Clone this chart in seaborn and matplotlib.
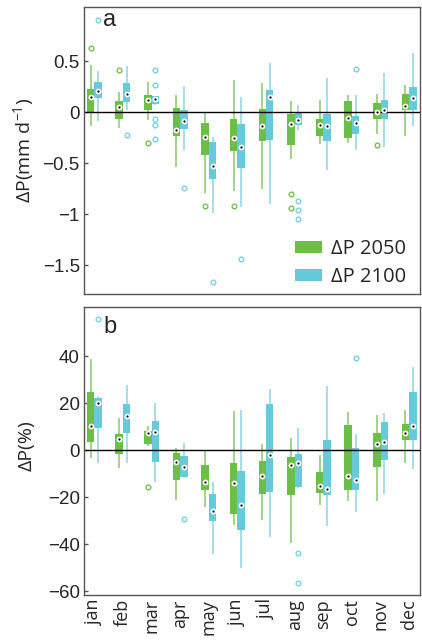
import numpy as np
import pandas as pd
import matplotlib
matplotlib.use("Agg")
import matplotlib.pyplot as plt
from matplotlib.patches import Patch
import seaborn as sns

# ---------------- data ----------------
months = ['jan', 'feb', 'mar', 'apr', 'may', 'jun', 'jul', 'aug', 'sep', 'oct', 'nov', 'dec']
series = ['ΔP 2050', 'ΔP 2100']

# panel a : mm/d  (whisker low, q1, median, q3, whisker high)
a50_lo = [-0.14, -0.15, -0.08, -0.54, -0.79, -0.77, -0.755, -0.46, -0.31, -0.30, -0.21, -0.23]
a50_q1 = [0.00, -0.07, 0.02, -0.23, -0.415, -0.38, -0.28, -0.32, -0.23, -0.25, -0.07, 0.02]
a50_md = [0.15, 0.05, 0.12, -0.17, -0.245, -0.255, -0.14, -0.12, -0.13, -0.06, 0.00, 0.06]
a50_q3 = [0.23, 0.105, 0.165, 0.04, -0.11, -0.07, 0.035, -0.02, -0.07, 0.11, 0.09, 0.18]
a50_hi = [0.46, 0.20, 0.30, 0.17, 0.00, 0.32, 0.29, 0.11, 0.12, 0.17, 0.18, 0.27]

a00_lo = [-0.085, 0.026, 0.07, -0.366, -0.99, -0.93, -0.90, -0.17, -0.57, -0.366, -0.34, -0.14]
a00_q1 = [0.14, 0.10, 0.085, -0.167, -0.657, -0.542, -0.275, -0.13, -0.278, -0.216, -0.066, 0.017]
a00_md = [0.206, 0.176, 0.134, -0.085, -0.526, -0.34, 0.147, -0.072, -0.134, -0.108, 0.023, 0.14]
a00_q3 = [0.30, 0.29, 0.154, 0.017, -0.288, -0.111, 0.222, 0.003, -0.02, -0.033, 0.118, 0.245]
a00_hi = [0.40, 0.45, 0.16, 0.255, -0.238, 0.144, 0.48, 0.075, 0.333, 0.167, 0.38, 0.58]

a_out_month = ['jan', 'feb', 'mar', 'may', 'jun', 'aug', 'aug', 'nov',
               'jan', 'feb', 'mar', 'mar', 'mar', 'mar', 'mar', 'apr', 'may', 'jun',
               'aug', 'aug', 'aug', 'oct']
a_out_series = ['ΔP 2050'] * 8 + ['ΔP 2100'] * 14
a_out_value = [0.63, 0.415, -0.30, -0.92, -0.92, -0.80, -0.94, -0.32,
               0.90, -0.22, 0.41, 0.27, -0.07, -0.127, -0.26, -0.74, -1.66, -1.44,
               -0.87, -0.96, -1.05, 0.425]

# panel b : %
b50_lo = [-3.3, -7.6, 1.7, -21.2, -24.3, -31.8, -29.6, -39.6, -23.2, -21.5, -21.7, -5.6]
b50_q1 = [3.4, -1.7, 2.7, -12.9, -16.9, -27.2, -18.5, -19.2, -18.2, -17.0, -7.3, 4.1]
b50_md = [10.3, 4.6, 7.2, -5.0, -13.7, -13.9, -11.2, -6.4, -15.2, -10.9, 2.4, 7.2]
b50_q3 = [24.7, 6.9, 8.2, -1.1, -6.2, -5.7, -4.7, -3.1, -9.4, 10.6, 7.2, 10.9]
b50_hi = [38.6, 13.6, 10.3, 0.7, 0.0, 16.7, 2.7, 5.2, -2.0, 16.2, 14.9, 17.0]

b00_lo = [-5.4, -5.4, -13.7, -11.7, -44.1, -50.1, -36.9, -16.0, -32.3, -26.2, -18.7, -7.9]
b00_q1 = [9.6, 7.2, -5.2, -11.4, -30.3, -34.0, -18.0, -15.9, -19.0, -17.0, -4.3, 4.4]
b00_md = [20.0, 14.3, 7.6, -7.2, -25.9, -23.2, -2.1, -5.3, -16.6, -12.7, 3.3, 10.2]
b00_q3 = [22.0, 19.7, 12.4, -2.4, -18.7, -8.9, 19.5, -1.6, 4.4, 0.7, 11.9, 24.6]
b00_hi = [22.9, 27.9, 20.2, 2.9, -13.6, 17.2, 25.8, 9.2, 27.3, 6.7, 15.7, 35.5]

b_out_month = ['mar', 'jan', 'apr', 'aug', 'aug', 'oct']
b_out_series = ['ΔP 2050', 'ΔP 2100', 'ΔP 2100', 'ΔP 2100', 'ΔP 2100', 'ΔP 2100']
b_out_value = [-15.6, 55.8, -29.5, -43.9, -56.8, 39.3]

a_yticks = [-1.5, -1, -0.5, 0, 0.5]
a_yticklabels = ['−1.5', '−1', '−0.5', '0', '0.5']
b_yticks = [-60, -40, -20, 0, 20, 40]
b_yticklabels = ['−60', '−40', '−20', '0', '20', '40']

# ---------------- style ----------------
GREEN = '#6bbf46'
CYAN = '#66cadb'
GREEN_W = '#9bd17e'
CYAN_W = '#9fdbe7'
GREEN_O = '#74c052'
CYAN_O = '#7ccfe0'
OPEN = ['Open Sans', 'DejaVu Sans']

sns.set_style('white')
plt.rcParams['font.family'] = ['Liberation Sans', 'DejaVu Sans']
plt.rcParams['mathtext.fontset'] = 'custom'
plt.rcParams['mathtext.rm'] = 'Open Sans'
plt.rcParams['mathtext.it'] = 'Open Sans:italic'


def box_frame(stats50, stats00):
    rows = []
    for s, stats in zip(series, (stats50, stats00)):
        for i, m in enumerate(months):
            for arr in stats:
                rows.append((m, s, arr[i]))
    return pd.DataFrame(rows, columns=['month', 'series', 'value'])


def draw_panel(ax, stats50, stats00, out_m, out_s, out_v):
    df = box_frame(stats50, stats00)
    for s, col, wcol in [(series[0], GREEN, GREEN_W), (series[1], CYAN, CYAN_W)]:
        sub = df[df['series'] == s]
        sns.boxplot(data=sub, x='month', y='value', hue='series', order=months,
                    hue_order=series, palette={series[0]: col, series[1]: col},
                    width=0.52, gap=0, dodge=True, whis=np.inf, showcaps=False,
                    fliersize=0, saturation=1, linewidth=1.3, linecolor=wcol,
                    boxprops=dict(linewidth=0, edgecolor=col),
                    whiskerprops=dict(color=wcol, linewidth=1.3),
                    medianprops=dict(linewidth=0, alpha=0),
                    legend=False, ax=ax)
    ax.axhline(0, color='black', linewidth=1.0, zorder=2.5)

    med = pd.DataFrame({'month': months * 2,
                        'series': [series[0]] * 12 + [series[1]] * 12,
                        'value': list(stats50[2]) + list(stats00[2])})
    for c, ms in [('white', 4.2), ('black', 1.6)]:
        sns.pointplot(data=med, x='month', y='value', hue='series', order=months,
                      hue_order=series, palette=[c, c], dodge=0.26, errorbar=None,
                      linestyle='none', marker='o', markersize=ms, markeredgewidth=0,
                      legend=False, zorder=3, ax=ax)

    out = pd.DataFrame({'month': out_m, 'series': out_s, 'value': out_v})
    out['k'] = out.groupby(['month', 'series']).cumcount()
    for k, g in out.groupby('k'):
        sns.pointplot(data=g, x='month', y='value', hue='series', order=months,
                      hue_order=series, palette=[GREEN_O, CYAN_O], dodge=0.26,
                      errorbar=None, linestyle='none', marker='o', markersize=3.4,
                      markerfacecolor='none', markeredgewidth=1.0,
                      legend=False, zorder=3, ax=ax)

    ax.set_xlim(-0.36, 11.38)
    for sp in ax.spines.values():
        sp.set_color('#555555')
        sp.set_linewidth(1.0)
        sp.set_visible(True)
    ax.tick_params(axis='y', direction='in', length=3, width=1, color='#555555',
                   labelsize=13.5, pad=3, left=True)
    ax.tick_params(axis='x', length=0)
    ax.set_xlabel('')


fig = plt.figure(figsize=(4.22, 6.44), dpi=100)
axa = fig.add_axes([84 / 422, 1 - 294 / 644, 336 / 422, 287 / 644])
axb = fig.add_axes([84 / 422, 1 - 595 / 644, 336 / 422, 288 / 644])

draw_panel(axa, (a50_lo, a50_q1, a50_md, a50_q3, a50_hi),
           (a00_lo, a00_q1, a00_md, a00_q3, a00_hi),
           a_out_month, a_out_series, a_out_value)
draw_panel(axb, (b50_lo, b50_q1, b50_md, b50_q3, b50_hi),
           (b00_lo, b00_q1, b00_md, b00_q3, b00_hi),
           b_out_month, b_out_series, b_out_value)

axa.set_ylim(-1.78, 1.03)
axa.set_yticks(a_yticks)
axa.set_yticklabels(a_yticklabels)
axa.set_xticklabels([])
axa.set_ylabel('ΔP(mm d$^{-1}$)', fontsize=14, family=OPEN)
axa.yaxis.set_label_coords(-0.143, 0.5)

axb.set_ylim(-61.7, 60.9)
axb.set_yticks(b_yticks)
axb.set_yticklabels(b_yticklabels)
axb.set_xticks(range(len(months)))
axb.set_xticklabels(months, rotation=90, fontsize=13, family=OPEN)
axb.tick_params(axis='x', pad=3)
axb.set_ylabel('ΔP(%)', fontsize=14, family=OPEN)
axb.yaxis.set_label_coords(-0.143, 0.52)

axa.text(0.058, 0.955, 'a', transform=axa.transAxes, fontsize=17, va='center', ha='left')
axb.text(0.058, 0.93, 'b', transform=axb.transAxes, fontsize=17, va='center', ha='left')

handles = [Patch(facecolor=GREEN, edgecolor='none'), Patch(facecolor=CYAN, edgecolor='none')]
axa.legend(handles, series, loc='lower right', bbox_to_anchor=(1.0, -0.025), frameon=False,
           prop={'family': OPEN, 'size': 14.5},
           handlelength=1.35, handleheight=0.5, handletextpad=0.45, labelspacing=0.4,
           borderaxespad=0.3)

fig.savefig('out.png', dpi=100)
